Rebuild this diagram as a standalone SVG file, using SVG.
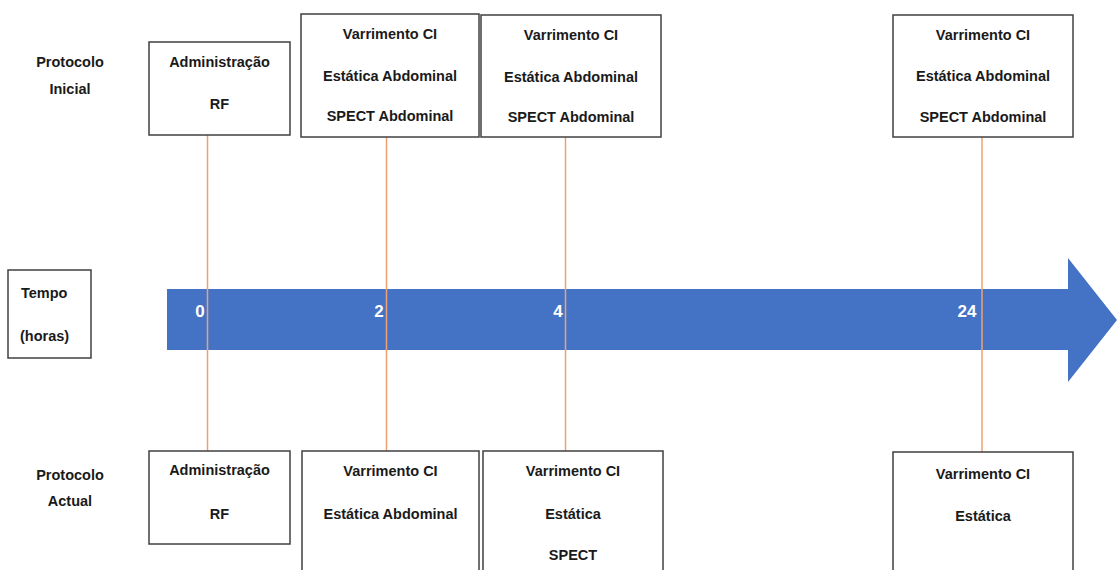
<svg xmlns="http://www.w3.org/2000/svg" width="1117" height="570" viewBox="0 0 1117 570">
<style>
.box{fill:#fff;stroke:#404040;stroke-width:1.5}
.t{font-family:"Liberation Sans",Arial,sans-serif;font-weight:bold;font-size:14.5px;fill:#1a1a1a;text-anchor:middle}
.n{font-family:"Liberation Sans",Arial,sans-serif;font-weight:bold;font-size:17px;fill:#fff;text-anchor:middle}
.c{stroke:#F0A070;stroke-width:1.5;fill:none}
</style>
<rect width="1117" height="570" fill="#fff"/>
<g id="timeline">
<path d="M167 289 H1068 V258 L1117 320 L1068 382 V350 H167 Z" fill="#4472C4"/>
<text class="n" x="200" y="317">0</text>
<text class="n" x="379" y="317">2</text>
<text class="n" x="558" y="317">4</text>
<text class="n" x="967" y="317">24</text>
</g>
<g id="connectors">
<line class="c" x1="207.5" y1="135" x2="207.5" y2="451"/>
<line class="c" x1="386.5" y1="137" x2="386.5" y2="451"/>
<line class="c" x1="565.5" y1="137" x2="565.5" y2="451"/>
<line class="c" x1="982" y1="137" x2="982" y2="452"/>
</g>
<g id="label-inicial">
<text class="t" x="70" y="67">Protocolo</text>
<text class="t" x="70" y="94">Inicial</text>
</g>
<g id="label-actual">
<text class="t" x="70" y="480">Protocolo</text>
<text class="t" x="70" y="506">Actual</text>
</g>
<g id="tempo">
<rect class="box" x="8" y="270" width="83" height="88"/>
<text class="t" x="21" y="298" style="text-anchor:start">Tempo</text>
<text class="t" x="20" y="341" style="text-anchor:start">(horas)</text>
</g>
<g id="ini-0">
<rect class="box" x="149" y="42" width="141" height="93"/>
<text class="t" x="219.5" y="67">Administração</text>
<text class="t" x="219.5" y="109">RF</text>
</g>
<g id="ini-2">
<rect class="box" x="301" y="14" width="178" height="123"/>
<text class="t" x="390" y="39">Varrimento CI</text>
<text class="t" x="390" y="81">Estática Abdominal</text>
<text class="t" x="390" y="121">SPECT Abdominal</text>
</g>
<g id="ini-4">
<rect class="box" x="481" y="15" width="180" height="122"/>
<text class="t" x="571" y="40">Varrimento CI</text>
<text class="t" x="571" y="82">Estática Abdominal</text>
<text class="t" x="571" y="122">SPECT Abdominal</text>
</g>
<g id="ini-24">
<rect class="box" x="893" y="15" width="180" height="122"/>
<text class="t" x="983" y="40">Varrimento CI</text>
<text class="t" x="983" y="81">Estática Abdominal</text>
<text class="t" x="983" y="122">SPECT Abdominal</text>
</g>
<g id="act-0">
<rect class="box" x="149" y="451" width="141" height="93"/>
<text class="t" x="219.5" y="475">Administração</text>
<text class="t" x="219.5" y="519">RF</text>
</g>
<g id="act-2">
<rect class="box" x="302" y="451" width="177" height="130"/>
<text class="t" x="390.5" y="476">Varrimento CI</text>
<text class="t" x="390.5" y="519">Estática Abdominal</text>
</g>
<g id="act-4">
<rect class="box" x="483" y="451" width="180" height="130"/>
<text class="t" x="573" y="476">Varrimento CI</text>
<text class="t" x="573" y="519">Estática</text>
<text class="t" x="573" y="560">SPECT</text>
</g>
<g id="act-24">
<rect class="box" x="893" y="452" width="180" height="130"/>
<text class="t" x="983" y="479">Varrimento CI</text>
<text class="t" x="983" y="521">Estática</text>
</g>
</svg>
